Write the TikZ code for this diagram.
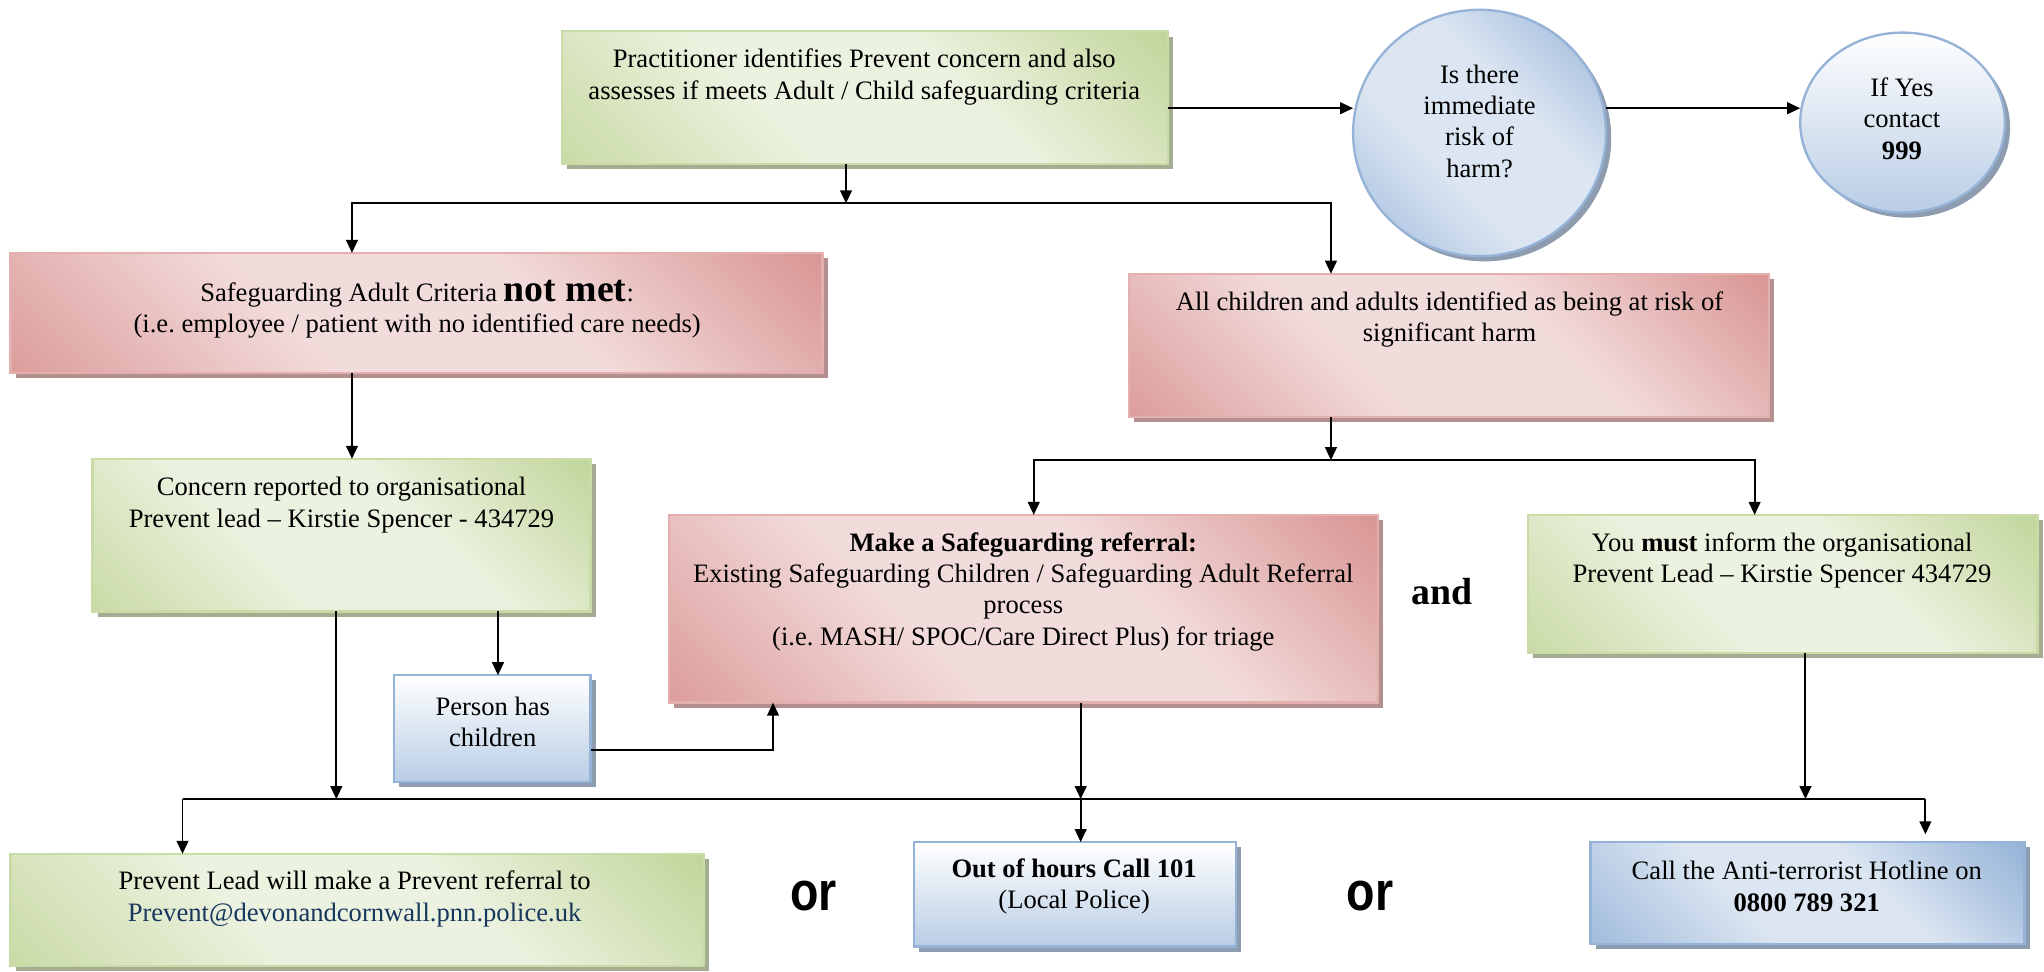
\documentclass[tikz,border=0pt]{standalone}
\usepackage{fontspec}
\setmainfont{Liberation Serif}
\newfontfamily\orfont[FakeStretch=0.85]{Liberation Sans}
\usetikzlibrary{shapes.geometric,arrows.meta,shadows,fit}
\frenchspacing
\definecolor{gD}{HTML}{C2D69B}
\definecolor{gM}{HTML}{CADBA7}
\definecolor{gL}{HTML}{ECF2E0}
\definecolor{gB}{HTML}{C9DBA6}
\definecolor{gS}{HTML}{A4AD91}
\definecolor{rD}{HTML}{D99694}
\definecolor{rM}{HTML}{DC9E9D}
\definecolor{rL}{HTML}{F2DCDB}
\definecolor{rB}{HTML}{E3B0AF}
\definecolor{rS}{HTML}{B38F8E}
\definecolor{bD}{HTML}{95B3D7}
\definecolor{bM}{HTML}{A2BCDC}
\definecolor{bL}{HTML}{DCE6F2}
\definecolor{bV}{HTML}{B9CDE5}
\definecolor{bB}{HTML}{95B3D7}
\definecolor{bS}{HTML}{8E9CB0}
\definecolor{mail}{HTML}{17365D}
\pgfdeclareverticalshading{gshade}{100bp}{color(0bp)=(gM); color(15bp)=(gM); color(40bp)=(gL); color(60bp)=(gL); color(85bp)=(gD); color(100bp)=(gD)}
\pgfdeclareverticalshading{rshade}{100bp}{color(0bp)=(rM); color(15bp)=(rM); color(40bp)=(rL); color(60bp)=(rL); color(85bp)=(rD); color(100bp)=(rD)}
\pgfdeclareverticalshading{bshade}{100bp}{color(0bp)=(bM); color(15bp)=(bM); color(40bp)=(bL); color(60bp)=(bL); color(85bp)=(bD); color(100bp)=(bD)}
\tikzset{
  box/.style={rectangle, inner sep=0pt, outer sep=0pt, line width=0.9pt},
  greenbox/.style={box, draw=gB, shading=gshade, shading angle=-45,
     general shadow={fill=gS, shadow xshift=2pt, shadow yshift=-2pt}},
  redbox/.style={box, draw=rB, shading=rshade, shading angle=-45,
     general shadow={fill=rS, shadow xshift=2pt, shadow yshift=-2pt}},
  bluediag/.style={box, draw=bB, shading=bshade, shading angle=-45,
     general shadow={fill=bS, shadow xshift=2pt, shadow yshift=-2pt}},
  bluevert/.style={box, draw=bB, top color=white, bottom color=bV,
     general shadow={fill=bS, shadow xshift=2pt, shadow yshift=-2pt}},
  txt/.style={inner sep=0pt, align=center, font=\fontsize{10.2}{12}\selectfont},
  arr/.style={-{Triangle[length=5pt,width=4.5pt]}, line width=0.75pt},
  ln/.style={line width=0.75pt},
}
\begin{document}
\begin{tikzpicture}[x=0.5pt,y=-0.5pt]
\useasboundingbox (0,0) rectangle (1568,745);

% boxes
\node[greenbox, fit={(431,24)(896,126)}] (top) {};
\node[bluediag, ellipse, minimum width=97pt, minimum height=94.5pt] (e1) at (1135,102) {};
\node[bluevert, ellipse, minimum width=78.5pt, minimum height=69pt] (e2) at (1459.5,94) {};
\node[redbox, fit={(8,194)(631,286)}] (b5) {};
\node[redbox, fit={(866,210)(1357,320)}] (b6) {};
\node[greenbox, fit={(71,352)(453,469)}] (b7) {};
\node[redbox, fit={(513,395)(1057,539)}] (b9) {};
\node[greenbox, fit={(1172,395)(1563,501)}] (b10) {};
\node[bluevert, fit={(302,518)(453,600)}] (pc) {};
\node[greenbox, fit={(8,655)(540,741)}] (b11) {};
\node[bluevert, fit={(701,646)(948,726)}] (b12) {};
\node[bluediag, fit={(1220,646)(1553,724)}] (b13) {};

% texts
\node[txt] (topT) at (663,59) {Practitioner identifies Prevent concern and also\\assesses if meets Adult / Child safeguarding criteria};
\node[txt] (e1T) at (1135,93) {Is there\\immediate\\risk of\\harm?};
\node[txt] (e2T) at (1459,91) {If Yes\\contact\\\textbf{999}};
\node[txt] (b5T) at (320,237) {Safeguarding Adult Criteria {\fontsize{14.5}{12}\selectfont\bfseries not met}:\\(i.e. employee / patient with no identified care needs)};
\node[txt] (b6T) at (1112,245) {All children and adults identified as being at risk of\\significant harm};
\node[txt] (b7T) at (262,387.5) {Concern reported to organisational\\Prevent lead -- Kirstie Spencer - 434729};
\node[txt] (b9T) at (785,454) {\textbf{Make a Safeguarding referral:}\\Existing Safeguarding Children / Safeguarding Adult Referral\\process\\(i.e. MASH/ SPOC/Care Direct Plus) for triage};
\node[txt] (b10T) at (1367,430) {You \textbf{must} inform the organisational\\Prevent Lead -- Kirstie Spencer 434729};
\node[txt] (pcT) at (378,554) {Person has\\children};
\node[txt] (b11T) at (272,689.5) {Prevent Lead will make a Prevent referral to\\\textcolor{mail}{Prevent@devonandcornwall.pnn.police.uk}};
\node[txt] (b12T) at (824,680) {\textbf{Out of hours Call 101}\\(Local Police)};
\node[txt] (b13T) at (1386,680) {Call the Anti-terrorist Hotline on\\\textbf{0800 789 321}};
\node[inner sep=0pt, font=\fontsize{14.5}{16}\selectfont\bfseries] (and) at (1106,454) {and};
\node[inner sep=0pt, font=\orfont\fontsize{21}{24}\selectfont\bfseries] (or1) at (624,687) {or};
\node[inner sep=0pt, font=\orfont\fontsize{21}{24}\selectfont\bfseries] (or2) at (1051,687) {or};

% connectors
\coordinate (r1) at (0,83);
\draw[arr] (top.east |- r1) -- (e1.west |- r1);
\draw[arr] (e1.east |- r1) -- (e2.west |- r1);

\coordinate (j1) at (649,156);
\coordinate (j1a) at (270,156);
\coordinate (j1b) at (1021,156);
\draw[arr] (top.south -| j1) -- (j1);
\draw[arr] (j1) -| (b5.north -| j1a);
\draw[arr] (j1) -| (b6.north -| j1b);
\draw[arr] (b5.south -| j1a) -- (b7.north -| j1a);

\coordinate (j2) at (1021,353);
\coordinate (j2a) at (793,353);
\coordinate (j2b) at (1346,353);
\draw[arr] (b6.south -| j2) -- (j2);
\draw[arr] (j2) -| (b9.north -| j2a);
\draw[arr] (j2) -| (b10.north -| j2b);

\coordinate (x382) at (382,0);
\draw[arr] (b7.south -| x382) -- (pc.north -| x382);
\coordinate (k) at (593,575);
\draw[arr] (pc.east |- k) -| (b9.south -| k);

\coordinate (j3a) at (258,613);
\coordinate (j3b) at (829,613);
\coordinate (j3c) at (1385,613);
\coordinate (j3l) at (140,613);
\coordinate (j3r) at (1477,613);
\coordinate (t13) at (1477,640);
\draw[ln] (j3l) -- (j3r);
\draw[arr] (b7.south -| j3a) -- (j3a);
\draw[arr] (b9.south -| j3b) -- (j3b);
\draw[arr] (b10.south -| j3c) -- (j3c);
\draw[arr] (j3l) -- (b11.north -| j3l);
\draw[arr] (j3b) -- (b12.north -| j3b);
\draw[arr] (j3r) -- (t13);
\end{tikzpicture}
\end{document}
